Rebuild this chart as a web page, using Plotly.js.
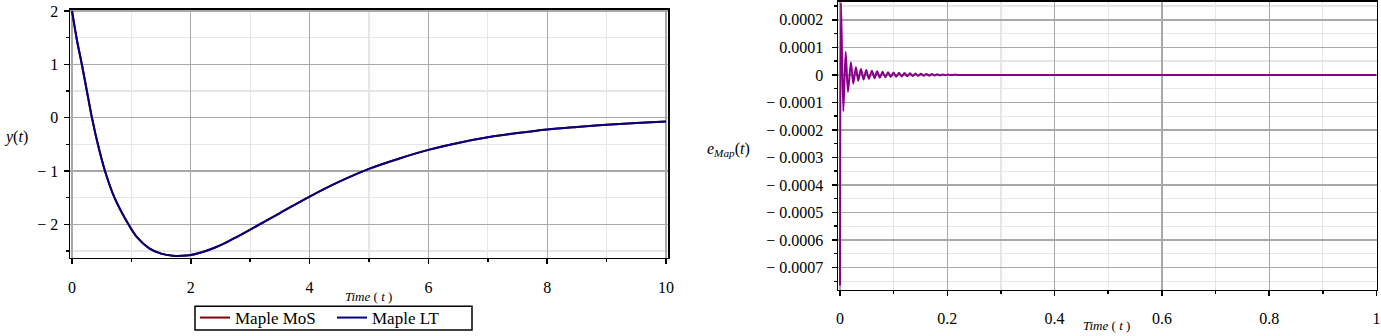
<!DOCTYPE html>
<html>
<head>
<meta charset="utf-8">
<script src="https://cdn.plot.ly/plotly-3.0.1.min.js"></script>
<style>
  html, body { margin: 0; padding: 0; background: #fff; }
  #plotArea { width: 1381px; height: 336px; }
</style>
</head>
<body>
<div id="plotArea"></div>
<script>
// y(t)
var tY = [0, 0.08, 0.165, 0.25, 0.335, 0.435, 0.555, 0.715, 0.95, 1.1, 1.3, 1.5, 1.7, 1.85, 2.0,
          2.2, 2.4, 2.6, 2.8, 3, 3.5, 4, 4.5, 5, 5.5, 6, 6.5, 7, 7.5, 8, 8.5, 9, 9.5, 10];
var yVals = [2, 1.47, 1, 0.5, 0, -0.5, -1, -1.5, -2, -2.25, -2.45, -2.55, -2.59, -2.592, -2.575,
             -2.52, -2.44, -2.34, -2.22, -2.1, -1.79, -1.48, -1.2, -0.96, -0.77, -0.605,
             -0.475, -0.37, -0.29, -0.222, -0.175, -0.136, -0.103, -0.074];

// error e_Map(t) (peaks and troughs of the ringing)
var tE = [0, 0.0019, 0.0062, 0.0106, 0.0149, 0.0204, 0.0248, 0.0297, 0.034, 0.039, 0.044, 0.0489,
          0.0539, 0.0595, 0.0645, 0.0693, 0.0743, 0.0793, 0.0845, 0.0896, 0.0947, 0.0998, 0.1049,
          0.11, 0.1151, 0.1202, 0.1253, 0.1304, 0.1355, 0.1406, 0.1457, 0.1508, 0.1559, 0.161,
          0.1661, 0.1712, 0.1763, 0.1814, 0.1865, 0.1916, 0.1967, 0.2018, 0.2069, 0.212, 0.22, 0.4, 0.7, 1.0];
var eVals = [-0.000765, 0.000262, -0.000132, 0.000084, -0.000062, 0.000046, -0.000032, 0.000028,
             -0.000021, 0.000021, -0.000017, 0.000018, -0.000014, 0.0000155, -0.000012, 0.000013,
             -0.00001, 0.000011, -0.0000085, 0.0000095, -0.0000075, 0.0000085, -0.0000065, 0.0000075,
             -0.0000058, 0.0000066, -0.000005, 0.0000058, -0.0000044, 0.000005, -0.0000038, 0.0000043,
             -0.0000032, 0.0000036, -0.0000027, 0.000003, -0.0000022, 0.0000024, -0.0000017, 0.0000018,
             -0.0000012, 0.0000012, -0.0000008, 0.0000006, 0, 0, 0, 0];

var yTickVals = [-2, -1, 0, 1, 2];
var yTickText = ["\u2212 2", "\u2212 1", "0", "1", "2"];
var eTickVals = [-0.0007, -0.0006, -0.0005, -0.0004, -0.0003, -0.0002, -0.0001, 0, 0.0001, 0.0002];
var eTickText = ["\u2212 0.0007", "\u2212 0.0006", "\u2212 0.0005", "\u2212 0.0004", "\u2212 0.0003",
                 "\u2212 0.0002", "\u2212 0.0001", "0", "0.0001", "0.0002"];

var serif = "Liberation Serif";

var traces = [
  { x: tY, y: yVals, type: "scatter", mode: "lines", name: "Maple MoS",
    line: { color: "#800000", width: 2, shape: "spline" }, xaxis: "x", yaxis: "y" },
  { x: tY, y: yVals, type: "scatter", mode: "lines", name: "Maple LT",
    line: { color: "#000080", width: 2, shape: "spline" }, xaxis: "x", yaxis: "y" },
  { x: tE, y: eVals, type: "scatter", mode: "lines", name: "e", showlegend: false,
    line: { color: "#880088", width: 2, shape: "spline", smoothing: 0.8 }, xaxis: "x2", yaxis: "y2" }
];

function ax(extra) {
  var a = {
    showline: true, mirror: true, linecolor: "#000", linewidth: 1.5,
    ticks: "outside", ticklen: 5, tickwidth: 1.5, tickcolor: "#000",
    showgrid: true, gridcolor: "#a8a8a8", gridwidth: 1.3,
    zeroline: false, ticklabeloverflow: "allow",
    tickfont: { family: serif, size: 16, color: "#000" }
  };
  for (var k in extra) a[k] = extra[k];
  return a;
}

function minorOf(d) {
  return { tickmode: "linear", tick0: 0, dtick: d, ticks: "outside", ticklen: 3, tickcolor: "#000",
           showgrid: true, gridcolor: "#e6e6e6", gridwidth: 1.3 };
}

function px(x) { return x / 1381; }
function py(y) { return (336 - y) / 336; }

var layout = {
  width: 1381, height: 336,
  margin: { l: 0, r: 0, t: 0, b: 0 },
  paper_bgcolor: "#fff", plot_bgcolor: "#fff",
  font: { family: serif, color: "#000" },
  xaxis: ax({ domain: [px(70), px(668)], range: [-0.034, 10.034], dtick: 2, tick0: 0, anchor: "y",
    ticklabelstandoff: 9, minor: minorOf(1) }),
  yaxis: ax({ domain: [py(261), py(10)], range: [-2.63, 2.02], tickmode: "array",
    tickvals: yTickVals, ticktext: yTickText, anchor: "x", ticklabelstandoff: 2, minor: minorOf(0.5) }),
  xaxis2: ax({ domain: [px(838), px(1376.5)], range: [-0.0037, 1.0], dtick: 0.2, tick0: 0, anchor: "y2",
    ticklabelstandoff: 9, minor: minorOf(0.1) }),
  yaxis2: ax({ domain: [py(293), py(2)], range: [-0.00078, 0.000265], tickmode: "array",
    tickvals: eTickVals, ticktext: eTickText, anchor: "x2", ticklabelstandoff: 5, minor: minorOf(0.00005) }),
  showlegend: true,
  legend: { orientation: "h", x: px(332), xanchor: "center", y: py(322), yanchor: "middle",
    borderwidth: 0, bgcolor: "rgba(0,0,0,0)", font: { family: serif, size: 17, color: "#000" },
    entrywidth: 92, entrywidthmode: "pixels", itemwidth: 30, tracegroupgap: 0 },
  shapes: [
    { type: "rect", xref: "paper", yref: "paper", x0: px(195), x1: px(472), y0: py(334), y1: py(310),
      line: { color: "#000", width: 1.5 }, fillcolor: "rgba(0,0,0,0)", layer: "above" }
  ],
  annotations: [
    { xref: "paper", yref: "paper", x: px(16), y: py(139), xanchor: "center", yanchor: "middle",
      text: "<i>y</i>(<i>t</i>)", showarrow: false, font: { family: serif, size: 16 } },
    { xref: "paper", yref: "paper", x: px(728), y: py(151), xanchor: "center", yanchor: "middle",
      text: "<i>e</i><sub><i>Map</i></sub>(<i>t</i>)", showarrow: false, font: { family: serif, size: 16 } },
    { xref: "paper", yref: "paper", x: px(368), y: py(300), xanchor: "center", yanchor: "middle",
      text: "<i>Time</i> ( <i>t</i> )", showarrow: false, font: { family: serif, size: 13 } },
    { xref: "paper", yref: "paper", x: px(1106), y: py(329), xanchor: "center", yanchor: "middle",
      text: "<i>Time</i> ( <i>t</i> )", showarrow: false, font: { family: serif, size: 13 } }
  ]
};

Plotly.newPlot("plotArea", traces, layout, { displayModeBar: false, staticPlot: true });
</script>
</body>
</html>
